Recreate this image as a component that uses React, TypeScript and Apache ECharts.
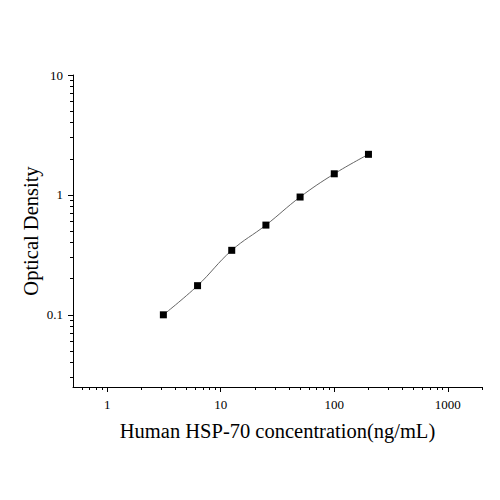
import React, { useEffect, useRef } from 'react';
import * as echarts from 'echarts';

// standard curve points
const concentrations: number[] = [3.125, 6.25, 12.5, 25, 50, 100, 200];
const opticalDensity: number[] = [0.1, 0.175, 0.345, 0.56, 0.96, 1.5, 2.18];

const xMajorTicks: number[] = [1, 10, 100, 1000];
const xTickLabels: string[] = ['1', '10', '100', '1000'];
const xMinorTicks: number[] = [
  0.6, 0.7, 0.8, 0.9,
  2, 3, 4, 5, 6, 7, 8, 9,
  20, 30, 40, 50, 60, 70, 80, 90,
  200, 300, 400, 500, 600, 700, 800, 900,
  2000,
];

const yMajorTicks: number[] = [0.1, 1, 10];
const yTickLabels: string[] = ['0.1', '1', '10'];
const yMinorTicks: number[] = [
  0.03, 0.04, 0.05, 0.06, 0.07, 0.08, 0.09,
  0.2, 0.3, 0.4, 0.5, 0.6, 0.7, 0.8, 0.9,
  2, 3, 4, 5, 6, 7, 8, 9,
];

const FONT = '"Liberation Serif", "Times New Roman", serif';

const pickLabel = (ticks: number[], labels: string[]) => (v: number) => {
  const i = ticks.findIndex((t) => Math.abs(t - v) / t < 1e-6);
  return i >= 0 ? labels[i] : '';
};

const App: React.FC = () => {
  const chartRef = useRef<HTMLDivElement | null>(null);

  useEffect(() => {
    const chart = echarts.init(chartRef.current!, null, { renderer: 'svg' });

    const lineStyle = { color: '#000', width: 1 };

    const option: echarts.EChartsOption = {
      animation: false,
      backgroundColor: '#fff',
      grid: { left: 73, right: 18, top: 75, bottom: 113 },
      xAxis: [
        {
          type: 'log',
          logBase: 10,
          min: 0.5,
          max: 2000,
          position: 'bottom',
          name: 'Human HSP-70 concentration(ng/mL)',
          nameLocation: 'middle',
          nameGap: 33,
          nameMoveOverlap: false,
          nameTextStyle: { fontFamily: FONT, fontSize: 20.5, color: '#000' },
          axisLine: { show: true, lineStyle },
          axisTick: { show: true, length: 5, customValues: xMajorTicks, lineStyle },
          axisLabel: {
            customValues: xMajorTicks,
            formatter: pickLabel(xMajorTicks, xTickLabels),
            margin: 11,
            fontFamily: FONT,
            fontSize: 13,
            color: '#000',
          },
          splitLine: { show: false },
        },
        {
          type: 'log',
          logBase: 10,
          min: 0.5,
          max: 2000,
          position: 'bottom',
          axisLine: { show: false },
          axisTick: { show: true, length: 3, customValues: xMinorTicks, lineStyle },
          axisLabel: { show: false },
          splitLine: { show: false },
        },
      ],
      yAxis: [
        {
          type: 'log',
          logBase: 10,
          min: 0.025,
          max: 10,
          position: 'left',
          name: 'Optical Density',
          nameLocation: 'middle',
          nameGap: 32,
          nameMoveOverlap: false,
          nameTextStyle: { fontFamily: FONT, fontSize: 20.5, color: '#000' },
          axisLine: { show: true, lineStyle },
          axisTick: { show: true, length: 5, customValues: yMajorTicks, lineStyle },
          axisLabel: {
            customValues: yMajorTicks,
            formatter: pickLabel(yMajorTicks, yTickLabels),
            margin: 10,
            fontFamily: FONT,
            fontSize: 13,
            color: '#000',
          },
          splitLine: { show: false },
        },
        {
          type: 'log',
          logBase: 10,
          min: 0.025,
          max: 10,
          position: 'left',
          axisLine: { show: false },
          axisTick: { show: true, length: 3, customValues: yMinorTicks, lineStyle },
          axisLabel: { show: false },
          splitLine: { show: false },
        },
      ],
      series: [
        {
          type: 'line',
          xAxisIndex: 0,
          yAxisIndex: 0,
          data: concentrations.map((c, i) => [c, opticalDensity[i]]),
          smooth: 0.4,
          symbol: 'rect',
          symbolSize: 7,
          itemStyle: { color: '#000' },
          lineStyle: { color: '#666', width: 1 },
        },
      ],
    } as echarts.EChartsOption;

    chart.setOption(option);

    return () => {
      chart.dispose();
    };
  }, []);

  return (
    <div
      ref={chartRef}
      style={{ width: '500px', height: '500px', position: 'fixed', left: 0, top: 0 }}
    />
  );
};

export default App;
